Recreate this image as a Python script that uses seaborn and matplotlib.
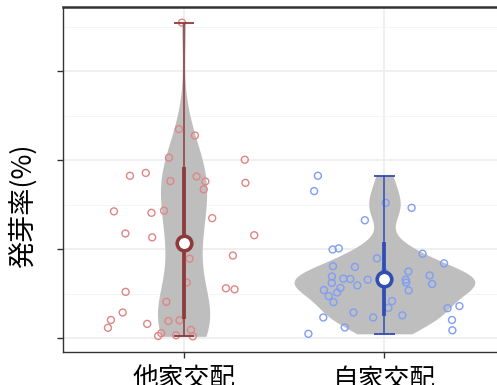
import numpy as np
import pandas as pd
import seaborn as sns
import matplotlib.pyplot as plt
from matplotlib.ticker import MultipleLocator, NullFormatter

# ---- data ----
categories = ["他家交配", "自家交配"]
outcross = [88.6, 58.7, 56.9, 50.7, 50.1, 46.4, 45.6, 45.4, 44.1, 44.0,
            43.6, 41.8, 35.8, 35.6, 35.2, 33.7, 29.4, 28.9, 28.3, 23.2,
            22.3, 15.6, 14.0, 13.7, 13.0, 10.2, 7.2, 5.1, 5.0, 4.8,
            4.0, 2.9, 2.3, 1.4, 0.8, 0.6, 0.5]
selfcross = [45.6, 41.3, 38.0, 36.6, 33.1, 25.2, 24.9, 23.7, 22.4, 21.0,
             20.0, 20.2, 18.5, 18.7, 17.6, 17.3, 16.4, 16.4, 16.7, 16.6,
             15.2, 15.5, 14.8, 14.1, 15.6, 13.5, 12.8, 13.4, 11.8, 10.4,
             10.1, 9.0, 8.4, 8.5, 6.4, 7.2, 5.8, 5.8, 5.1, 3.0,
             2.2, 1.2]
ylabel = "発芽率(%)"

point_colors = ["#e08585", "#7f9ef5"]
line_colors = ["#8e3a3a", "#2f4db3"]
violin_widths = [0.26, 0.9]
violin_bw = [0.85, 0.75]

groups = [outcross, selfcross]

sns.set_theme(style="whitegrid")
plt.rcParams['font.family'] = ['Noto Sans CJK JP', 'DejaVu Sans']

fig = plt.figure(figsize=(4.97, 3.85), dpi=100)
ax = fig.add_axes([0.1268, 0.0857, 0.8893, 0.8961])

for i, (cat, vals) in enumerate(zip(categories, groups)):
    sns.violinplot(x=[cat] * len(vals), y=vals, order=categories, inner=None,
                   cut=0, density_norm="width", width=violin_widths[i],
                   bw_adjust=violin_bw[i], color="#bebebe", saturation=1,
                   linewidth=0, ax=ax)

for i, (cat, vals) in enumerate(zip(categories, groups)):
    n0 = len(ax.collections)
    sns.stripplot(x=[cat] * len(vals), y=vals, order=categories, jitter=0.39,
                  color=point_colors[i], size=5, ax=ax, zorder=3)
    for coll in ax.collections[n0:]:
        coll.set_facecolor("none")
        coll.set_edgecolor(point_colors[i])
        coll.set_linewidth(1.0)

for i, vals in enumerate(groups):
    v = np.asarray(vals)
    m, s = v.mean(), v.std(ddof=1)
    c = line_colors[i]
    ax.vlines(i, v.min(), v.max(), color=c, lw=1.1, zorder=4)
    ax.hlines([v.min(), v.max()], i - 0.05, i + 0.05, color=c, lw=1.3, zorder=4)
    ax.vlines(i, m - s, m + s, color=c, lw=2.7, zorder=5)
    ax.scatter([i], [m], s=110, facecolor="white", edgecolor=c, linewidth=2.6, zorder=6)

ax.set_xlim(-0.6, 1.6)
ax.set_ylim(-3.9, 93.0)
ax.yaxis.set_major_locator(MultipleLocator(25))
ax.yaxis.set_minor_locator(MultipleLocator(12.5))
ax.yaxis.set_major_formatter(NullFormatter())
ax.grid(True, which="major", color="#ebebeb", lw=1.1)
ax.grid(True, which="minor", axis="y", color="#f2f2f2", lw=0.6)
ax.set_axisbelow(True)
ax.set_xlabel("")
ax.set_ylabel("")
ax.tick_params(axis="both", which="major", length=4, width=1, color="#333333",
               direction="out", left=True, bottom=True)
ax.tick_params(axis="y", which="minor", length=0)
ax.tick_params(axis="x", labelsize=18.5, pad=6.5, labelcolor="black")
for side in ["left", "top", "bottom"]:
    ax.spines[side].set_visible(True)
    ax.spines[side].set_color("#333333")
    ax.spines[side].set_linewidth(1.0)
ax.spines["top"].set_linewidth(1.8)
ax.spines["right"].set_visible(False)

fig.text(23 / 497, 1 - 206 / 385, ylabel, rotation=90, ha="center", va="center",
         fontsize=19.5, color="black")

fig.savefig("out.png", dpi=100)
